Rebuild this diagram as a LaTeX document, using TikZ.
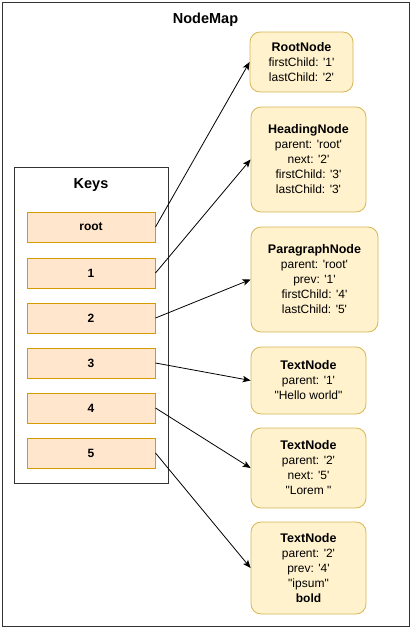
\documentclass[tikz,border=0pt]{standalone}
\usepackage{fontspec}
\setmainfont{Liberation Sans}[Ligatures=TeXOff]
\usetikzlibrary{arrows.meta}
\definecolor{keyfill}{HTML}{FFE6CC}
\definecolor{keydraw}{HTML}{D79B00}
\definecolor{objfill}{HTML}{FFF2CC}
\definecolor{objdraw}{HTML}{D6B656}
\definecolor{framecol}{HTML}{333333}
\tikzset{
  keybox/.style={draw=keydraw, fill=keyfill, line width=1pt, minimum width=128pt, minimum height=30pt, inner sep=0pt, font=\fontsize{12}{15}\selectfont\bfseries},
  objbox/.style={draw=objdraw, fill=objfill, line width=0.8pt, rounded corners=10pt, inner sep=0pt, align=center, font=\fontsize{12}{15}\selectfont},
  link/.style={draw=black, line width=0.8pt, -{Stealth[length=8pt,width=6.5pt,inset=2pt]}},
  title/.style={font=\fontsize{14.5}{17}\selectfont\bfseries, inner sep=0pt}
}
\begin{document}
\begin{tikzpicture}[x=1pt,y=-1pt]
\useasboundingbox (0,0) rectangle (412,629);
\draw[framecol, line width=1pt] (2,2) rectangle (409.5,626.5);
\node[title] (maptitle) at (205.5,20) {NodeMap};
\draw[framecol, line width=1pt] (14,167) rectangle (168,483);
\node[title] (keystitle) at (91,185) {Keys};

\node[keybox] (kroot) at (91,227) {root};
\node[keybox] (k1) at (91,273) {1};
\node[keybox] (k2) at (91,318) {2};
\node[keybox] (k3) at (91,363) {3};
\node[keybox] (k4) at (91,408) {4};
\node[keybox] (k5) at (91,453) {5};

\node[objbox, minimum width=103pt, minimum height=60pt] (root) at (301.5,62)
  {\textbf{\fontsize{12.5}{15}\selectfont RootNode}\\firstChild: '1'\\lastChild: '2'};
\node[objbox, minimum width=115pt, minimum height=105pt] (heading) at (308.5,159.5)
  {\textbf{\fontsize{12.5}{15}\selectfont HeadingNode}\\parent: 'root'\\next: '2'\\firstChild: '3'\\lastChild: '3'};
\node[objbox, minimum width=127pt, minimum height=105pt] (para) at (314.5,279.5)
  {\textbf{\fontsize{12.5}{15}\selectfont ParagraphNode}\\parent: 'root'\\prev: '1'\\firstChild: '4'\\lastChild: '5'};
\node[objbox, minimum width=115pt, minimum height=67pt] (t1) at (308.5,380.5)
  {\textbf{\fontsize{12.5}{15}\selectfont TextNode}\\parent: '1'\\"Hello world"};
\node[objbox, minimum width=115pt, minimum height=80pt] (t2) at (308.5,468)
  {\textbf{\fontsize{12.5}{15}\selectfont TextNode}\\parent: '2'\\next: '5'\\"Lorem "};
\node[objbox, minimum width=115pt, minimum height=92pt] (t3) at (308.5,568)
  {\textbf{\fontsize{12.5}{15}\selectfont TextNode}\\parent: '2'\\prev: '4'\\"ipsum"\\\textbf{bold}};

\draw[link] (kroot.east) -- (root.west);
\draw[link] (k1.east) -- (heading.west);
\draw[link] (k2.east) -- (para.west);
\draw[link] (k3.east) -- (t1.west);
\draw[link] (k4.east) -- (t2.west);
\draw[link] (k5.east) -- (t3.west);
\end{tikzpicture}
\end{document}
